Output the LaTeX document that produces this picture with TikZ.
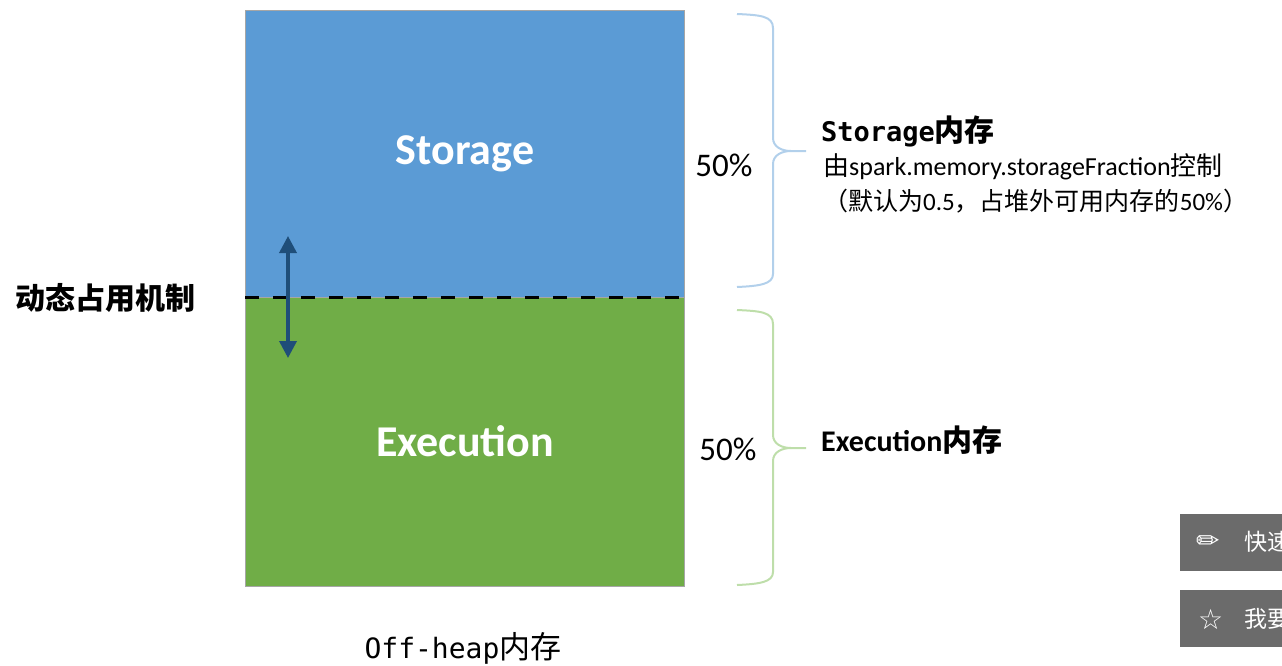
\documentclass[tikz,border=0pt]{standalone}
\usepackage{fontspec}
\setmainfont{Carlito}
\newfontfamily\cjk{Noto Sans CJK SC}
\newfontfamily\cjkbold[BoldFont={Noto Sans CJK SC Bold}]{Noto Sans CJK SC}
\newfontfamily\monofont{DejaVu Sans Mono}
\usetikzlibrary{arrows.meta}

\begin{document}
\begin{tikzpicture}[x=1pt, y=-1pt,
        memblock/.style={draw=gray!70, line width=1pt, minimum width=439pt, text=white, inner sep=0pt, font=\fontsize{44}{48}\selectfont\bfseries},
        pct/.style={inner sep=0pt, font=\fontsize{33}{36}\selectfont},
        sidebtn/.style={fill=btngray, minimum width=110pt, minimum height=57pt, anchor=north west, inner sep=0pt},
        sidetxt/.style={text=white, inner sep=0pt, anchor=west, font=\fontsize{23}{26}\selectfont\cjk}]
    % Define colors
    \definecolor{storeblue}{RGB}{91,155,213}
    \definecolor{execgreen}{RGB}{112,173,71}
    \definecolor{arrowblue}{RGB}{31,78,121}
    \definecolor{braceblue}{RGB}{178,208,235}
    \definecolor{bracegreen}{RGB}{190,222,170}
    \definecolor{btngray}{RGB}{107,107,107}

    \useasboundingbox (0,0) rectangle (1282,665);
    \clip (0,0) rectangle (1282,665);

    % The two memory blocks
    \node[memblock, fill=storeblue, minimum height=287pt] (storage) at (465,153.5) {Storage};
    \node[memblock, fill=execgreen, minimum height=289pt] (execution) at (465,441.5) {Execution};

    % Dashed border and the arrow across it
    \draw[line width=3pt, dash pattern=on 14pt off 14pt] (storage.south west) -- (storage.south east);
    \coordinate (arrowtop) at (288,236);
    \coordinate (arrowbot) at (288,358);
    \draw[{Triangle[length=17pt,width=17pt]}-{Triangle[length=17pt,width=17pt]}, arrowblue, line width=3.6pt] (arrowtop) -- (arrowbot);
    \node[inner sep=0pt, anchor=west, font=\fontsize{30}{34}\selectfont\bfseries\cjk] (dynamic) at (15,298) {动态占用机制};

    % Braces
    \draw[braceblue, line width=2pt] (737,14) .. controls (760,15) and (773,16) .. (773,28) -- (773,138) .. controls (773,147) and (782,151) .. (791,151) -- (806,151);
    \draw[braceblue, line width=2pt] (791,151) .. controls (782,151) and (773,155) .. (773,164) -- (773,274) .. controls (773,284) and (760,286) .. (737,287);
    \draw[bracegreen, line width=2pt] (737,310) .. controls (760,311) and (773,312) .. (773,324) -- (773,435) .. controls (773,444) and (782,448) .. (791,448) -- (806,448);
    \draw[bracegreen, line width=2pt] (791,448) .. controls (782,448) and (773,452) .. (773,461) -- (773,572) .. controls (773,582) and (760,584) .. (737,585);

    % Percent labels
    \node[pct] (pcttop) at (724,165) {50\%};
    \node[pct] (pctbot) at (728,449) {50\%};

    % Texts on the right
    \node[inner sep=0pt, anchor=west, font=\fontsize{30}{34}\selectfont\bfseries] (storetitle) at (821,131) {{\monofont\fontsize{27}{30}\selectfont Storage}{\cjk 内存}};
    \node[inner sep=0pt, anchor=west, font=\fontsize{26}{30}\selectfont] (storeline) at (823,167) {{\cjk 由}spark.memory.storageFraction{\cjk 控制}};
    \node[inner sep=0pt, anchor=west, font=\fontsize{25}{30}\selectfont] (storenote) at (823,201) {{\cjk （默认为}0.5{\cjk ，占堆外可用内存的}50\%{\cjk ）}};
    \node[inner sep=0pt, anchor=west, font=\fontsize{30}{34}\selectfont\bfseries] (exectitle) at (821,440) {Execution{\cjk 内存}};
    \node[inner sep=0pt, font=\fontsize{31}{34}\selectfont] (caption) at (463,648) {{\monofont\fontsize{28}{30}\selectfont Off-heap}{\cjk 内存}};

    % Side buttons of the page
    \node[sidebtn] (btnone) at (1180,514) {};
    \node[sidebtn] (btntwo) at (1180,590) {};
    \node[sidetxt, font=\fontsize{28}{30}\selectfont\fontspec{DejaVu Sans}] (pencil) at (1196,543) {✏};
    \node[sidetxt, font=\fontsize{28}{30}\selectfont\fontspec{DejaVu Sans}] (star) at (1198,619) {☆};
    \node[sidetxt] (btntextone) at (1244,542) {快速};
    \node[sidetxt] (btntexttwo) at (1244,619) {我要};
\end{tikzpicture}
\end{document}
